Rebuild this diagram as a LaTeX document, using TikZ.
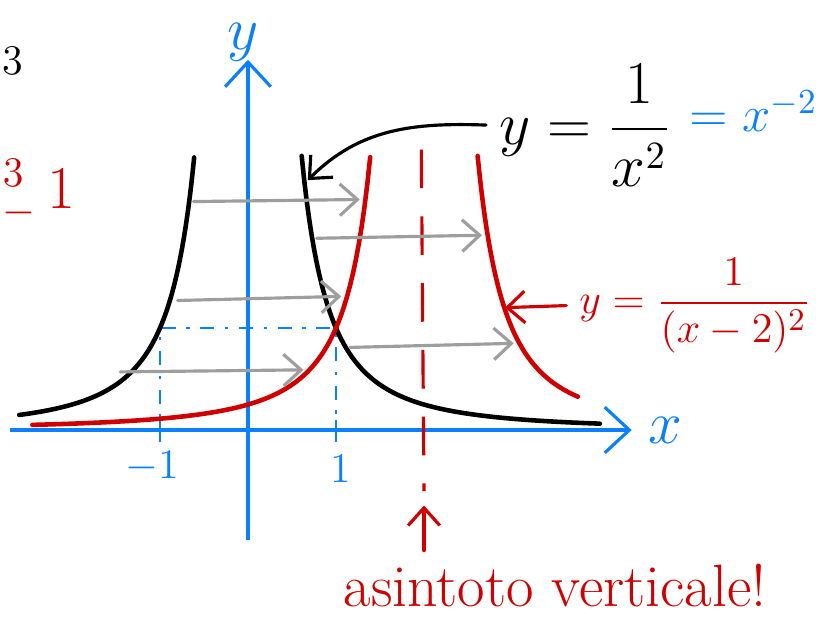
\documentclass[tikz,border=0pt]{standalone}
\usepackage{amsmath}
\usepackage{tikz}
\usetikzlibrary{arrows.meta,positioning}
\definecolor{penblue}{RGB}{10,128,255}
\definecolor{penred}{RGB}{208,0,0}
\definecolor{pengray}{RGB}{158,158,158}
\tikzset{every picture/.style={line width=0.75pt}}

\begin{document}
\begin{tikzpicture}[x=0.88cm, y=1.02cm,
    axis/.style={penblue, line width=0.9pt, -{Straight Barb[length=7pt,width=13pt]}},
    curve/.style={line width=1.3pt, line cap=round, samples=120},
    shiftarrow/.style={pengray, line width=0.9pt, line cap=round, -{Straight Barb[length=5pt,width=9pt]}},
    pointer/.style={line width=0.9pt, line cap=round, -{Straight Barb[length=5pt,width=9pt]}},
    guide/.style={penblue, line width=0.8pt, dash pattern=on 4pt off 3pt on 1pt off 3pt}]
    \useasboundingbox (-2.818,-1.853) rectangle (6.580,4.216);

    % 坐标轴
    \draw[axis] (-2.70,0) -- (4.36,0) coordinate (xend);
    \draw[axis] (0,-1.08) -- (0,3.63) coordinate (yend);
    \node[penblue, font=\LARGE, right=1pt of xend] (xlab) {$x$};
    \node[penblue, font=\LARGE, inner sep=1pt] (ylab) at (-0.05,3.80) {$y$};

    % 刻度 -1 和 1
    \draw[penblue, line width=0.8pt] (-1,-0.12) -- (-1,0.1);
    \draw[penblue, line width=0.8pt] (1,-0.12) -- (1,0.1);
    \node[penblue, font=\large] (mone) at (-1.09,-0.36) {$-1$};
    \node[penblue, font=\large] (one) at (1.05,-0.38) {$1$};
    \draw[guide] (-1,-0.12) -- (-1,1) -- (1,1) -- (1,-0.12);

    % y = 1/x^2
    \draw[curve, domain=-2.6:-0.61] plot (\x, {1/(\x*\x)});
    \draw[curve, domain=0.61:4.0] plot (\x, {1/(\x*\x)});

    % y = 1/(x-2)^2 与渐近线
    \draw[curve, penred, domain=-2.45:1.39] plot (\x, {1/((\x-2)*(\x-2))});
    \draw[curve, penred, domain=2.61:3.75] plot (\x, {1/((\x-2)*(\x-2))});
    \draw[penred, line width=0.9pt, dash pattern=on 11pt off 8pt] (1.97,2.75) -- (2.0,-0.6);
    \coordinate (asybot) at (2.0,-0.74);

    % 平移箭头
    \foreach \xa/\xb/\ya/\yb in {-0.62/1.27/2.24/2.26, 0.78/2.66/1.88/1.91,
        -0.80/1.06/1.27/1.31, 1.16/3.02/0.81/0.85, -1.45/0.63/0.57/0.59}
        \draw[shiftarrow] (\xa,\ya) -- (\xb,\yb);

    % 标注函数
    \node[font=\fontsize{16}{18}\selectfont] (bigeq) at (3.83,2.99) {$y=\dfrac{1}{x^2}$};
    \node[penblue, font=\Large, right=-2pt of bigeq, yshift=4pt] (blueeq) {$=x^{-2}$};
    \coordinate (tipB) at (0.68,2.45);
    \draw[pointer] (bigeq.west) to[out=178, in=45] (tipB);

    \node[penred, font=\fontsize{13}{15}\selectfont] (redeq) at (5.08,1.22) {$y=\dfrac{1}{(x-2)^2}$};
    \coordinate (tipR) at (2.92,1.20);
    \draw[pointer, penred] (redeq.west) -- (tipR);

    % 渐近线说明
    \node[penred, font=\fontsize{17}{19}\selectfont] (asin) at (3.49,-1.52) {asintoto verticale!};
    \draw[pointer, penred] (asin.north -| asybot) -- (asybot);

    % 边缘残留
    \node[font=\large, anchor=west, inner sep=0pt] (three) at (-2.80,3.62) {3};
    \node[penred, font=\LARGE, anchor=west, inner sep=0pt] (frag) at (-2.80,2.32) {$^{3}_{-}\,1$};
\end{tikzpicture}
\end{document}
